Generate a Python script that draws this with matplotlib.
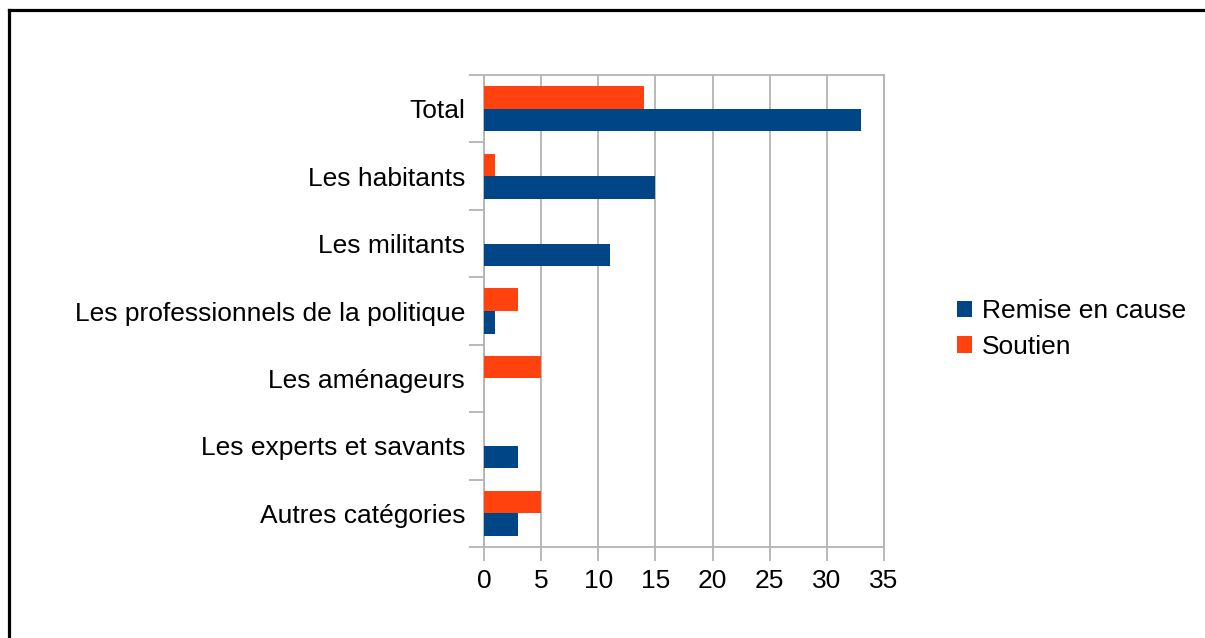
import matplotlib.pyplot as plt
import numpy as np
from matplotlib.lines import Line2D

plt.rcParams['font.family'] = ['Liberation Sans', 'DejaVu Sans']

categories = ["Total", "Les habitants", "Les militants",
              "Les professionnels de la politique", "Les aménageurs",
              "Les experts et savants", "Autres catégories"]
remise = [33, 15, 11, 1, 0, 3, 3]
soutien = [14, 1, 0, 3, 5, 0, 5]
xticks = [0, 5, 10, 15, 20, 25, 30, 35]

blue = "#004586"
orange = "#ff420e"
grey = "#b3b3b3"
fs = 19

fig = plt.figure(figsize=(12.05, 6.38), dpi=100)
ax = fig.add_axes([484/1205, 1-547/638, 400/1205, 472/638])

y = np.arange(len(categories))
h = 0.334
ax.barh(y - h/2, soutien, height=h, color=orange, label="Soutien", zorder=3)
ax.barh(y + h/2, remise, height=h, color=blue, label="Remise en cause", zorder=3)

ax.set_xlim(0, 35)
ax.set_ylim(len(categories) - 0.5, -0.5)
ax.set_xticks(xticks)
ax.set_xticklabels([str(t) for t in xticks], fontsize=fs)
ax.tick_params(axis='x', length=10, color=grey, width=1.3, pad=6)
ax.xaxis.grid(True, color=grey, linewidth=1.3, zorder=0)

# category labels between boundary ticks
ax.set_yticks(y)
ax.set_yticklabels(categories, fontsize=fs)
ax.tick_params(axis='y', length=0, pad=13.5)
ax.set_yticks(np.arange(len(categories) + 1) - 0.5, minor=True)
ax.tick_params(axis='y', which='minor', length=11, color=grey, width=1.3)

for s in ax.spines.values():
    s.set_color(grey)
    s.set_linewidth(1.3)

handles, labels = ax.get_legend_handles_labels()
fig.legend(handles[::-1], labels[::-1], loc='center left',
           bbox_to_anchor=(957/1205, 1-329/638), frameon=False,
           fontsize=fs, handlelength=0.57, handleheight=0.57,
           handletextpad=0.38, labelspacing=0.44,
           borderpad=0, borderaxespad=0)

# outer frame (top and left edges visible)
fig.add_artist(Line2D([8.5/1205, 8.5/1205], [0, 1-10/638], color='black', linewidth=2.3, transform=fig.transFigure))
fig.add_artist(Line2D([8.5/1205, 1], [1-10/638, 1-10/638], color='black', linewidth=2.3, transform=fig.transFigure))

fig.savefig("out.png", dpi=100)
